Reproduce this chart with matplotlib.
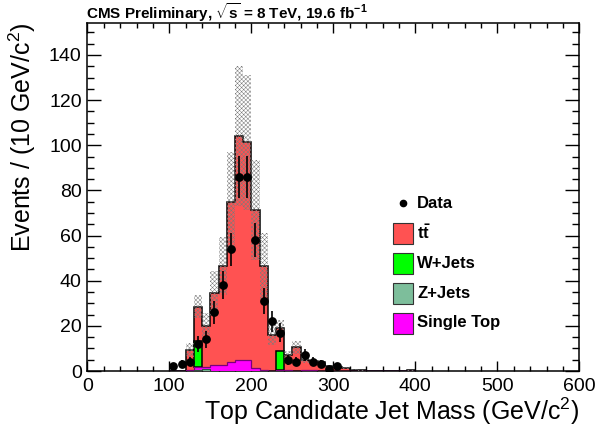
import numpy as np
import matplotlib
matplotlib.use("Agg")
import matplotlib.pyplot as plt
from matplotlib.patches import Rectangle
from matplotlib.lines import Line2D
from matplotlib.ticker import MultipleLocator

plt.rcParams['font.family'] = ['Liberation Sans', 'DejaVu Sans']
plt.rcParams['mathtext.fontset'] = 'custom'
plt.rcParams['mathtext.rm'] = 'Liberation Sans'
plt.rcParams['mathtext.bf'] = 'Liberation Sans:bold'
plt.rcParams['hatch.linewidth'] = 0.35

# 10 GeV bins from 100 to 400 GeV
bin_low = np.arange(100, 400, 10)

data = np.array([2, 3, 4, 12, 14, 26, 38, 54, 86, 86, 58, 31, 22, 17, 5,
                 4, 7, 4, 3, 1, 2, 0, 0, 0, 0, 0, 0, 0, 0, 0])
ttbar = np.array([0, 0, 9.1, 15.1, 18.0, 31.7, 43.8, 71.2, 99.3, 96.3, 69.9,
                  46.2, 15.8, 10.0, 6.7, 10.3, 4.7, 3.8, 3.8, 2.0, 1.9, 1.5,
                  0.5, 0.4, 0, 0, 0, 0, 0, 0.3])
w_jets = np.array([0, 0, 0, 11.5, 0, 0, 0, 0, 0, 0, 0, 0, 0, 8.6, 0,
                   0, 0, 0, 0, 0, 0, 0, 0, 0, 0, 0, 0, 0, 0, 0])
z_jets = np.array([0, 0, 0, 0.6, 0.8, 0, 0, 0, 0, 0, 0, 0, 0, 0, 0,
                   0, 0, 0, 0, 0, 0, 0, 0, 0, 0, 0, 0, 0, 0, 0])
single_top = np.array([0, 0, 0.3, 1.3, 1.1, 2.7, 2.7, 3.8, 5.0, 5.0, 1.4,
                       0.3, 0.2, 0.4, 0.3, 0.2, 0.3, 0.6, 0.2, 0, 0, 0, 0,
                       0, 0, 0, 0, 0, 0, 0])
mc_unc = np.array([0, 0, 3, 5, 6, 10, 13, 22, 31, 30, 22, 14.5, 4.5, 3.5,
                   2, 3, 1.5, 1, 1, 0.5, 0.5, 0.4, 0.2, 0.2, 0, 0, 0, 0, 0, 0.1])

c_tt = '#FF5252'
c_w = '#00FF00'
c_z = '#7DBE9B'
c_st = '#FF00FF'

W, H = 598, 432
fig = plt.figure(figsize=(W / 100, H / 100), dpi=100)
ax_l, ax_r, ax_t, ax_b = 87.3, 579.3, 22.7, 371.0
ax = fig.add_axes([ax_l / W, 1 - ax_b / H, (ax_r - ax_l) / W, (ax_b - ax_t) / H])

edges = np.append(bin_low, bin_low[-1] + 10)
centers = bin_low + 5

# cumulative stack: Z+Jets, single top, W+Jets, ttbar
cum_z = z_jets
cum_st = cum_z + single_top
cum_w = cum_st + w_jets
total = cum_w + ttbar

ax.stairs(total, edges, fill=True, color=c_tt, zorder=2)
ax.stairs(total, edges, color='black', lw=1.1, zorder=3)
for i in np.nonzero(w_jets)[0]:
    ax.bar(centers[i], w_jets[i], bottom=cum_st[i], width=10, color=c_w,
           edgecolor='black', lw=1.1, zorder=4)
ax.stairs(cum_st, edges, baseline=cum_z, fill=True, color=c_st, zorder=4)
ax.stairs(cum_st, edges, color='#7a007a', lw=0.9, zorder=4)
for i in np.nonzero(z_jets)[0]:
    ax.bar(centers[i], z_jets[i], bottom=0, width=10, color=c_z,
           edgecolor='#2f4f3f', lw=0.8, zorder=4)

# MC uncertainty band
sel = mc_unc > 0
ax.bar(centers[sel], 2 * mc_unc[sel], bottom=total[sel] - mc_unc[sel], width=10,
       facecolor='none', edgecolor='#7a7a7a', hatch='xxxxxxxx', lw=0, zorder=5)

# data points
dsel = data > 0
ax.errorbar(centers[dsel], data[dsel], yerr=np.sqrt(data[dsel]), fmt='o',
            color='black', ms=5.3, elinewidth=1.2, capsize=0, zorder=6)

ax.set_xlim(0, 600)
ax.set_ylim(0, 154.3)
ax.xaxis.set_major_locator(MultipleLocator(100))
ax.xaxis.set_minor_locator(MultipleLocator(20))
ax.yaxis.set_major_locator(MultipleLocator(20))
ax.yaxis.set_minor_locator(MultipleLocator(5))
ax.tick_params(which='both', direction='in', top=True, right=True, width=1,
               labelsize=14, colors='black')
ax.tick_params(axis='x', which='major', length=7, pad=5)
ax.tick_params(axis='x', which='minor', length=3.3)
ax.tick_params(axis='y', which='major', length=10, pad=4)
ax.tick_params(axis='y', which='minor', length=4.8)
for s in ax.spines.values():
    s.set_linewidth(1.1)

fig.text(ax_r / W, 1 - 411 / H, 'Top Candidate Jet Mass (GeV/c$^{2}$)',
         ha='right', va='center', fontsize=18)
fig.text(22 / W, 1 - ax_t / H, 'Events / (10 GeV/c$^{2}$)', rotation=90,
         ha='center', va='top', fontsize=18)
fig.text(86 / W, 1 - 19 / H,
         r'CMS Preliminary, $\sqrt{\mathbf{s}}$ = 8 TeV, 19.6 fb$^{\mathbf{-1}}$',
         ha='left', va='baseline', fontsize=11, fontweight='bold')

# legend
def px(x, y):
    return x / W, 1 - y / H

leg_rows = [('Data', None), (r'$\mathbf{t\bar{t}}$', c_tt), ('W+Jets', c_w),
            ('Z+Jets', c_z), ('Single Top', c_st)]
for k, (lab, col) in enumerate(leg_rows):
    yc = 203 + 30 * k
    if col is None:
        fig.add_artist(Line2D([px(403, yc)[0]], [px(403, yc)[1]], marker='o',
                              color='black', ms=4.5, transform=fig.transFigure))
    else:
        x0, y0 = px(392.7, yc + 10.5)
        fig.add_artist(Rectangle((x0, y0), 20.6 / W, 21 / H, facecolor=col,
                                 edgecolor='#333333', lw=0.8,
                                 transform=fig.transFigure))
    fig.text(px(417, yc)[0], px(417, yc)[1], lab, ha='left', va='center',
             fontsize=12, fontweight='bold')

fig.savefig('out.png', dpi=100)
